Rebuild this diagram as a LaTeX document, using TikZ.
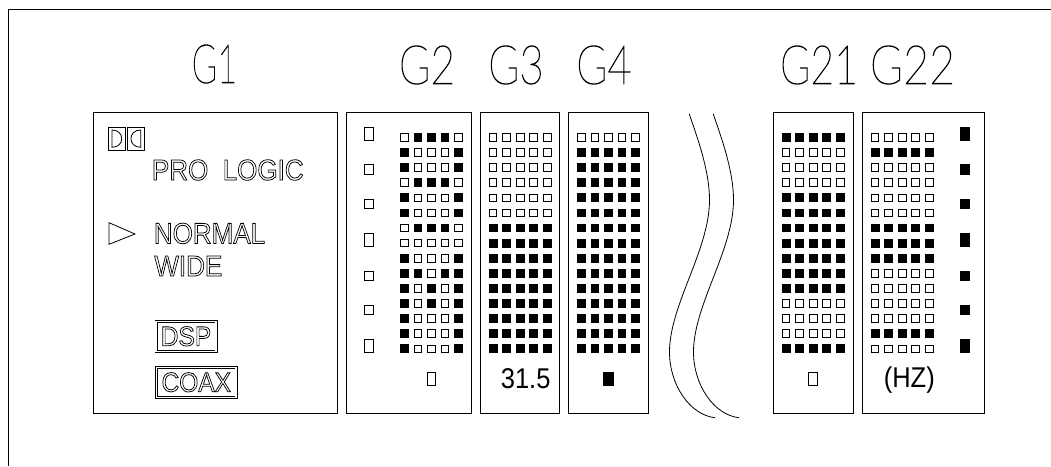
\documentclass[tikz,border=0pt]{standalone}
\usepackage{fontspec}
\setmainfont{Liberation Sans}
\newfontfamily\glabelfont{Lato Hairline}
\usetikzlibrary{positioning}

\newcommand{\outlined}[1]{\special{pdf:code 1 Tr 0.7 w}\scalebox{1}[1.12]{#1}\special{pdf:code 0 Tr}}
\newcommand{\thinlabel}[2]{\special{pdf:code 1 Tr 0.75 w}\scalebox{#1}[1]{#2}\special{pdf:code 0 Tr}}
\newcommand{\cellgrid}[3]{%
  \foreach \a/\b/\c/\d/\e [count=\r from 0] in {#3} {
    \foreach \v [count=\k from 0] in {\a,\b,\c,\d,\e} {
      \node[cell\v] (#1-\r-\k) at ({#2+13.55*\k},{137.3+15.1*\r}) {};
    }
  }
}

\begin{document}
\begin{tikzpicture}[
    x=1pt, y=-1pt,
    line width=0.8pt
]
\tikzset{
    panel/.style = {rectangle, draw=black, anchor=north west, inner sep=0, outer sep=0, minimum height=300.6pt},
    cell0/.style = {rectangle, draw=black, fill=white, line width=0.8pt, inner sep=0, minimum size=7.6pt},
    cell1/.style = {rectangle, draw=black, fill=black, line width=0.8pt, inner sep=0, minimum size=7.8pt},
    ledo/.style = {rectangle, draw=black, inner sep=0, minimum width=8.5pt, minimum height=#1},
    ledf/.style = {rectangle, draw=black, fill=black, inner sep=0, minimum width=9.5pt, minimum height=#1},
    dolby/.style = {rectangle, draw=black, inner sep=0, minimum width=16.6pt, minimum height=22.7pt},
    glabel/.style = {font=\glabelfont\fontsize{54}{54}\selectfont, inner sep=0},
    readout/.style = {font=\fontsize{25.5}{26}\selectfont, inner sep=0},
    plate/.style = {font=\fontsize{26}{28}\selectfont, inner sep=0},
    platebox/.style = {font=\fontsize{24.5}{26}\selectfont, rectangle, draw=black, double=white, double distance=1.6pt, line width=0.7pt, inner sep=0, minimum height=30pt}
}
\useasboundingbox (0,0) rectangle (1051,466);
\coordinate (corner) at (8.5,9.5);
\coordinate (framer) at (1051,9.5);
\coordinate (frameb) at (8.5,466);
\draw (frameb) -- (corner) -- (framer);

\node[glabel] at (214.5,64) (t1) {\thinlabel{.64}{G1}};
\node[glabel] at (427,65) (t2) {\thinlabel{.79}{G2}};
\node[glabel] at (516,65) (t3) {\thinlabel{.78}{G3}};
\node[glabel] at (604,65) (t4) {\thinlabel{.78}{G4}};
\node[glabel] at (819,65) (t21) {\thinlabel{.76}{G21}};
\node[glabel] at (912.5,65) (t22) {\thinlabel{.83}{G22}};

\node[panel, minimum width=244pt] at (93.7,112.7) (g1) {};
\node[panel, minimum width=124.6pt] at (346.7,112.7) (g2) {};
\node[panel, minimum width=79pt] at (480.3,112.7) (g3) {};
\node[panel, minimum width=79.6pt] at (568.7,112.7) (g4) {};
\node[panel, minimum width=79.6pt] at (773.7,112.7) (g21) {};
\node[panel, minimum width=121.7pt] at (862.3,112.7) (g22) {};

\node[dolby] at (116.6,138.7) (dl) {};
\node[dolby] at (136,138.7) (dr) {};
\draw (112,130) .. controls (125,130) and (125,147.3) .. (112,147.3) -- cycle;
\draw (140.7,130) .. controls (127.7,130) and (127.7,147.3) .. (140.7,147.3) -- cycle;

\node[plate] at (227.8,170) (prologic) {\outlined{PRO\ \ LOGIC}};
\node[plate, anchor=west] at (153.5,233.4) (normal) {\outlined{NORMAL}};
\node[plate, anchor=west] at (154,266) (wide) {\outlined{WIDE}};
\coordinate (ta) at (109,222.7);
\coordinate (tb) at (135,234);
\coordinate (tc) at (109,244.3);
\draw (ta) -- (tb) -- (tc) -- cycle;
\node[platebox, minimum width=60pt] at (186,336.3) (dsp) {\outlined{DSP}};
\node[platebox, minimum width=79.6pt] at (196.3,382.3) (coax) {\outlined{COAX}};

\node[ledo=13pt] at (369,134) (a1) {};
\node[ledo=9.5pt] at (369,169.3) (a2) {};
\node[ledo=9.5pt] at (369,203.7) (a3) {};
\node[ledo=13pt] at (369,239.7) (a4) {};
\node[ledo=9.5pt] at (369,275.7) (a5) {};
\node[ledo=9.5pt] at (369,310) (a6) {};
\node[ledo=13pt] at (369,345.7) (a7) {};
\cellgrid{p2}{404.3}{0/1/1/1/0,1/0/0/0/1,1/0/0/0/1,0/1/1/1/0,1/0/0/0/1,1/0/0/0/1,0/1/1/1/0,0/0/0/0/0,1/0/0/0/1,1/1/0/1/1,1/0/1/0/1,1/0/1/0/1,1/0/0/0/1,1/0/0/0/1,1/0/0/0/1}
\node[ledo=13pt] at (431.3,378.7) (s2) {};

\cellgrid{p3}{493}{0/0/0/0/0,0/0/0/0/0,0/0/0/0/0,0/0/0/0/0,0/0/0/0/0,0/0/0/0/0,1/1/1/1/1,1/1/1/1/1,1/1/1/1/1,1/1/1/1/1,1/1/1/1/1,1/1/1/1/1,1/1/1/1/1,1/1/1/1/1,1/1/1/1/1}
\node[readout] at (525.7,378.7) (freq) {\scalebox{1}[1.12]{31.5}};

\cellgrid{p4}{581.3}{0/0/0/0/0,1/1/1/1/1,1/1/1/1/1,1/1/1/1/1,1/1/1/1/1,1/1/1/1/1,1/1/1/1/1,1/1/1/1/1,1/1/1/1/1,1/1/1/1/1,1/1/1/1/1,1/1/1/1/1,1/1/1/1/1,1/1/1/1/1,1/1/1/1/1}
\node[ledf=13pt] at (608.3,378.7) (s4) {};

\foreach \dx in {0,24} {
    \draw (689.3+\dx,114) .. controls (697+\dx,137) and (709.5+\dx,170) .. (709.5+\dx,200)
        .. controls (709.5+\dx,250) and (669.5+\dx,305) .. (669.5+\dx,352)
        .. controls (669.5+\dx,385) and (690+\dx,415) .. (715+\dx,417.7);
}

\cellgrid{p21}{786}{1/1/1/1/1,0/0/0/0/0,0/0/0/0/0,0/0/0/0/0,1/1/1/1/1,1/1/1/1/1,1/1/1/1/1,1/1/1/1/1,1/1/1/1/1,1/1/1/1/1,1/1/1/1/1,0/0/0/0/0,0/0/0/0/0,0/0/0/0/0,1/1/1/1/1}
\node[ledo=13pt] at (813,378.7) (s21) {};

\cellgrid{p22}{875}{0/0/0/0/0,1/1/1/1/1,0/0/0/0/0,0/0/0/0/0,0/0/0/0/0,0/0/0/0/0,1/1/1/1/1,1/1/1/1/1,1/1/1/1/1,0/0/0/0/0,0/0/0/0/0,0/0/0/0/0,0/0/0/0/0,1/1/1/1/1,0/0/0/0/0}
\node[readout] at (909.3,380) (unit) {\scalebox{1}[1.12]{(HZ)}};
\node[ledf=13pt] at (964.7,134) (b1) {};
\node[ledf=9.5pt] at (964.7,169.3) (b2) {};
\node[ledf=9.5pt] at (964.7,203.7) (b3) {};
\node[ledf=13pt] at (964.7,239.7) (b4) {};
\node[ledf=9.5pt] at (964.7,275.7) (b5) {};
\node[ledf=9.5pt] at (964.7,310) (b6) {};
\node[ledf=13pt] at (964.7,345.7) (b7) {};
\end{tikzpicture}
\end{document}
